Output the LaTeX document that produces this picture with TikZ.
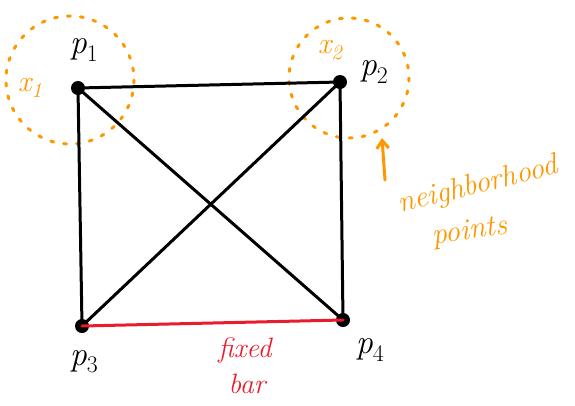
\documentclass[tikz,border=0pt]{standalone}
\usepackage{fontspec}
\usetikzlibrary{arrows.meta}
\definecolor{hand}{RGB}{255,152,0}
\definecolor{barred}{RGB}{232,28,44}
\newcommand{\lbl}[2]{\textit{#1}\textsubscript{#2}}
\begin{document}
\begin{tikzpicture}[x=1pt,y=-1pt,
  pt/.style={circle,fill=black,inner sep=0pt,minimum size=14pt},
  edge/.style={line width=3pt,line cap=round},
  nbr/.style={draw=hand,line width=3pt,line cap=round,dash pattern=on 3pt off 10pt},
  lab/.style={font=\fontsize{34}{38}\selectfont},
  olab/.style={text=hand,font=\fontsize{30}{34}\selectfont\itshape},
  rlab/.style={text=barred,font=\fontsize{28}{32}\selectfont\itshape}]
\useasboundingbox (0,0) rectangle (575,405);
\node[pt] (p1) at (78,88) {};
\node[pt] (p2) at (340,82) {};
\node[pt] (p3) at (82,326) {};
\node[pt] (p4) at (343,320) {};
\draw[nbr] (70,80) circle (64);
\draw[nbr] (349,78) circle (60);
\draw[edge] (p1.center) -- (p2.center);
\draw[edge] (p1.center) -- (p3.center);
\draw[edge] (p2.center) -- (p4.center);
\draw[edge] (p1.center) -- (p4.center);
\draw[edge] (p2.center) -- (p3.center);
\draw[edge,draw=barred] (p3.center) -- (p4.center);
\node[lab] (l1) at (84,50) {\lbl{p}{1}};
\node[lab] (l2) at (374,72) {\lbl{p}{2}};
\node[lab] (l3) at (84,362) {\lbl{p}{3}};
\node[lab] (l4) at (370,350) {\lbl{p}{4}};
\node[olab] (x1) at (30,88) {\lbl{x}{1}};
\node[olab] (x2) at (330,50) {\lbl{x}{2}};
\node[olab,rotate=14,inner sep=0pt] (nb) at (478,186) {neighborhood};
\node[olab,rotate=8,inner sep=0pt] (pts) at (470,232) {points};
\coordinate (a0) at (385,180);
\coordinate (a1) at (382,138);
\draw[draw=hand,line width=3pt,line cap=round,-{Straight Barb[length=8pt,width=12pt]}] (a0) -- (a1);
\node[rlab] (fx) at (245,350) {fixed};
\node[rlab] (br) at (247,384) {bar};
\end{tikzpicture}
\end{document}
